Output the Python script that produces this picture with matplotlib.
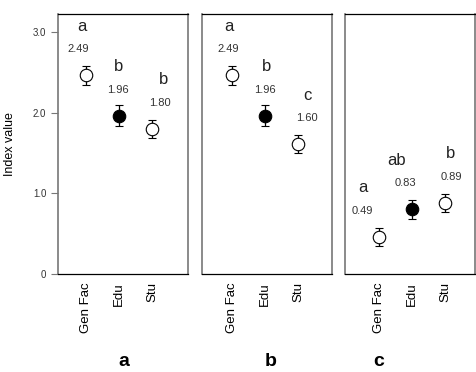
import matplotlib.pyplot as plt

plt.rcParams['font.family'] = ['Liberation Sans', 'DejaVu Sans']

groups = ['Gen Fac', 'Edu', 'Stu']
panels = ['a', 'b', 'c']
means = [[2.49, 1.96, 1.80],
         [2.49, 1.96, 1.60],
         [0.49, 0.83, 0.89]]
# plotted positions (marker centre) and standard errors
centres = [[2.46, 1.96, 1.80],
           [2.46, 1.96, 1.61],
           [0.46, 0.80, 0.88]]
errors = [[0.12, 0.13, 0.11],
          [0.12, 0.13, 0.11],
          [0.11, 0.12, 0.11]]
letters = [['a', 'b', 'b'],
           ['a', 'b', 'c'],
           ['a', 'ab', 'b']]
filled = [False, True, False]

fig = plt.figure(figsize=(4.77, 3.72), dpi=100)
lefts = [58 / 477, 202 / 477, 345 / 477]
w, b, h = 130 / 477, 98 / 372, 260 / 372
xlims = [(0.15, 4.09), (0.09, 4.03), (-0.03, 3.91)]
# horizontal offsets (pixels) of the value / letter labels
val_dx = [[-8, -1, 8], [-4, 0, 9], [-17, -7, 6]]
let_dx = [[-4, 0, 12], [-3, 2, 9], [-16, -15, 6]]
panel_lab_x = [0.51, 0.53, 0.26]

for i, p in enumerate(panels):
    ax = fig.add_axes([lefts[i], b, w, h])
    x = [1, 2, 3]
    for j in range(3):
        ax.errorbar(x[j], centres[i][j], yerr=errors[i][j], fmt='o',
                    ms=9, mfc='black' if filled[j] else 'white',
                    mec='black', mew=0.8, ecolor='black', elinewidth=0.9,
                    capsize=3, capthick=0.9, zorder=3)
        ax.annotate(f'{means[i][j]:.2f}', (x[j], centres[i][j]),
                    xytext=(val_dx[i][j], 26), textcoords='offset pixels',
                    ha='center', va='center', fontsize=8, color='#333333')
        ax.annotate(letters[i][j], (x[j], centres[i][j]),
                    xytext=(let_dx[i][j], 49), textcoords='offset pixels',
                    ha='center', va='center', fontsize=12, color='#222222')
    ax.set_xlim(*xlims[i])
    ax.set_ylim(0, 3.22)
    ax.set_xticks(x)
    ax.set_xticklabels(groups, rotation=90, fontsize=9.5)
    ax.tick_params(axis='x', length=0, pad=6)
    for s in ['left', 'right']:
        ax.spines[s].set_color('#777777')
        ax.spines[s].set_linewidth(1.2)
    ax.spines['top'].set_linewidth(0.9)
    ax.spines['bottom'].set_linewidth(0.9)
    if i == 0:
        ax.set_yticks([0, 1, 2, 3])
        ax.set_yticklabels(['0', '1.0', '2.0', '3.0'], fontsize=7, color='#333333')
        ax.tick_params(axis='y', length=5, color='#777777', width=0.8)
        ax.set_ylabel('Index value', fontsize=9, labelpad=12)
    else:
        ax.set_yticks([])
    ax.text(panel_lab_x[i], -0.335, p, transform=ax.transAxes, ha='center',
            va='center', fontsize=14, fontweight='bold')

fig.savefig('out.png', dpi=100)
